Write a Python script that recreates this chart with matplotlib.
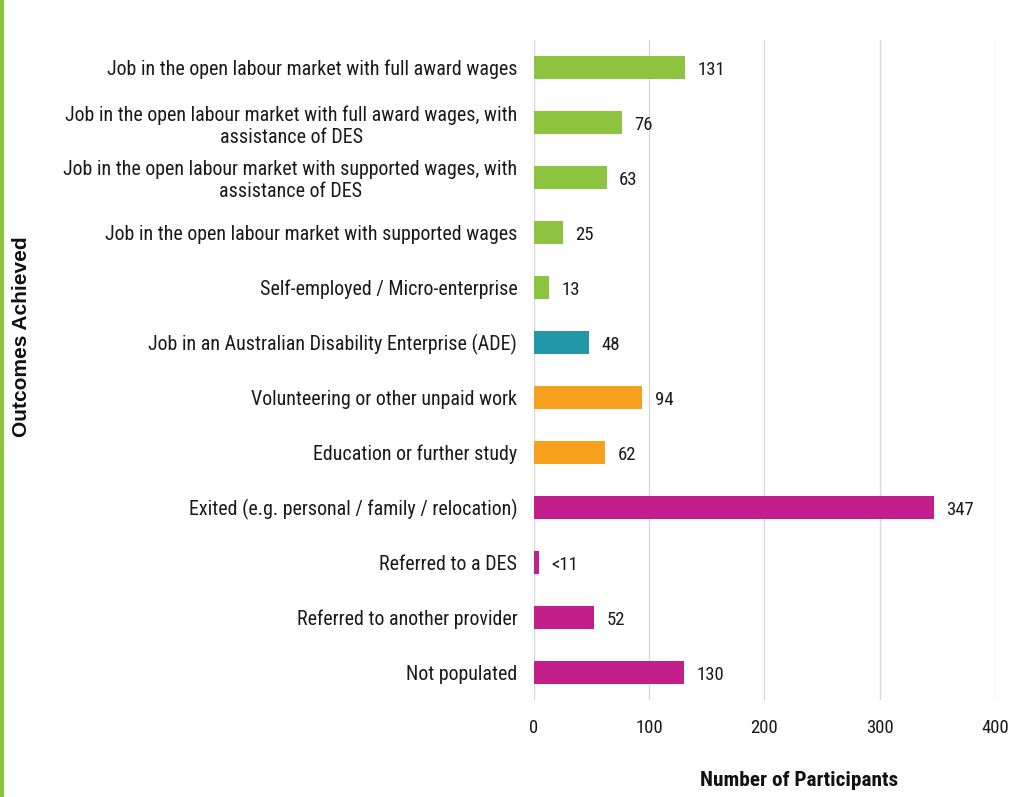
import matplotlib
matplotlib.use("Agg")
import matplotlib.pyplot as plt
from matplotlib.lines import Line2D
from matplotlib import font_manager

categories = [
    "Job in the open labour market with full award wages",
    "Job in the open labour market with full award wages, with\nassistance of DES",
    "Job in the open labour market with supported wages, with\nassistance of DES",
    "Job in the open labour market with supported wages",
    "Self-employed / Micro-enterprise",
    "Job in an Australian Disability Enterprise (ADE)",
    "Volunteering or other unpaid work",
    "Education or further study",
    "Exited (e.g. personal / family / relocation)",
    "Referred to a DES",
    "Referred to another provider",
    "Not populated",
]
values = [131, 76, 63, 25, 13, 48, 94, 62, 347, 4, 52, 130]
value_labels = ["131", "76", "63", "25", "13", "48", "94", "62", "347", "<11", "52", "130"]
groups = ["job", "job", "job", "job", "job", "ade", "other", "other", "exit", "exit", "exit", "exit"]
group_colors = {"job": "#8CC43F", "ade": "#2398A8", "other": "#F7A11F", "exit": "#C21F8C"}
xticks = [0, 100, 200, 300, 400]

names = {f.name for f in font_manager.fontManager.ttflist}
cands = ["Liberation Sans Narrow", "Roboto Condensed", "Open Sans Condensed",
         "DejaVu Sans Condensed", "Noto Sans Condensed"]
found = [c for c in cands if c in names]
narrow_found = len(found) > 0
narrow = found[:1] + ["Liberation Sans", "DejaVu Sans"]
plt.rcParams["font.family"] = narrow
lab_fs = 14.4 if narrow_found else 13
num_fs = 13.5 if narrow_found else 12

fig = plt.figure(figsize=(10.2, 7.97), dpi=100)
ax = fig.add_axes([0.5235, 0.1217, 0.452, 0.8283])

ypos = list(range(len(categories)))
colors = [group_colors[g] for g in groups]
ax.barh(ypos, values, height=0.42, color=colors, zorder=3)
for y, v, lab in zip(ypos, values, value_labels):
    ax.annotate(lab, (v, y), xytext=(9, -2), textcoords="offset points",
                va="center", ha="left", fontsize=num_fs, color="#1a1a1a")

ax.set_ylim(len(categories) - 0.5, -0.5)
ax.set_xlim(0, 400)
ax.set_xticks(xticks)
ax.set_xticklabels([str(t) for t in xticks], fontsize=num_fs, color="#1a1a1a")
ax.set_yticks(ypos)
ax.set_yticklabels(categories, fontsize=lab_fs, color="#1a1a1a", linespacing=1.2,
                   multialignment="center")
ax.tick_params(axis="both", length=0)
ax.tick_params(axis="x", pad=14)
ax.tick_params(axis="y", pad=12)
ax.grid(axis="x", color="#D9D9D9", linewidth=1, zorder=0)
for s in ax.spines.values():
    s.set_visible(False)

fig.text(0.783, 0.021, "Number of Participants", ha="center", va="center",
         fontsize=15.3 if narrow_found else 13, fontweight="bold", family=narrow, color="#111111")
fig.text(0.021, 0.577, "Outcomes Achieved", ha="center", va="center", rotation=90,
         fontsize=15, fontweight="bold", family=["Liberation Sans", "DejaVu Sans"], color="#111111")

fig.add_artist(Line2D([0.0015, 0.0015], [0, 1], transform=fig.transFigure,
                      color="#8CC43F", linewidth=3))

fig.savefig("out.png", dpi=100)
